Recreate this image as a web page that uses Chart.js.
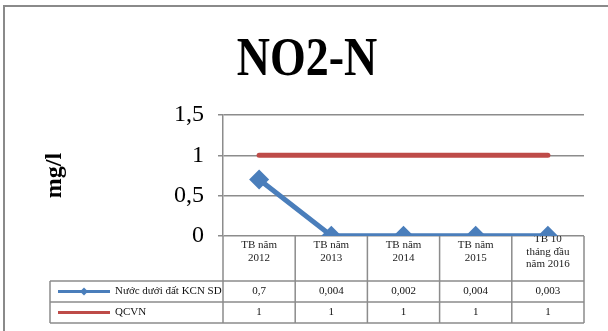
<!DOCTYPE html>
<html lang="vi">
<head>
  <meta charset="UTF-8" />
  <title>NO2-N</title>
  <script src="https://cdn.jsdelivr.net/npm/chart.js"></script>
  <style>
    html, body { margin: 0; padding: 0; background: #fff; }
    .wrap { width: 608px; height: 331px; }
  </style>
</head>
<body>
  <div class="wrap"><canvas id="no2Chart" width="608" height="331"></canvas></div>

  <script>
    // Data
    const categories = [
      ['TB năm', '2012'],
      ['TB năm', '2013'],
      ['TB năm', '2014'],
      ['TB năm', '2015'],
      ['TB 10', 'tháng đầu', 'năm 2016']
    ];
    const groundwater = [0.7, 0.004, 0.002, 0.004, 0.003];
    const qcvn = [1, 1, 1, 1, 1];
    const yTicks = [0, 0.5, 1, 1.5];
    const seriesNames = ['Nước dưới đất KCN SD', 'QCVN'];
    const chartTitle = 'NO2-N';

    const FONT = '"Liberation Serif", "Times New Roman", serif';
    const BLUE = '#4A7EBB';
    const RED = '#BE4B48';
    const GRID = '#8c8c8c';

    const fmt = v => String(v).replace('.', ',');

    // frame, title and the Excel-style data table under the x axis
    const dataTablePlugin = {
      id: 'dataTable',
      beforeDraw(chart) {
        const ctx = chart.ctx;
        ctx.save();
        ctx.fillStyle = '#fff';
        ctx.fillRect(0, 0, chart.width, chart.height);
        ctx.strokeStyle = '#8a8a8a';
        ctx.lineWidth = 2;
        ctx.strokeRect(4, 6, chart.width + 20, chart.height + 20);

        // title is a bit taller than the font in the reference
        ctx.translate(307, 75);
        ctx.scale(1, 1.18);
        ctx.fillStyle = '#000';
        ctx.font = 'bold 46px ' + FONT;
        ctx.textAlign = 'center';
        ctx.textBaseline = 'alphabetic';
        ctx.fillText(chartTitle, 0, 0);
        ctx.restore();
      },
      beforeDatasetsDraw(chart) {
        const ctx = chart.ctx;
        const xs = chart.scales.x;
        const area = chart.chartArea;
        const step = (xs.right - xs.left) / categories.length;
        const headTop = area.bottom;
        const rowH = 21;
        const rowTop = headTop + 45;
        const tableBottom = rowTop + rowH * 2;
        const legendLeft = 50;

        ctx.save();
        ctx.strokeStyle = GRID;
        ctx.lineWidth = 1.5;
        ctx.beginPath();
        for (let i = 0; i <= categories.length; i++) {
          const x = xs.left + step * i;
          ctx.moveTo(x, headTop);
          ctx.lineTo(x, tableBottom);
        }
        ctx.moveTo(legendLeft, rowTop);
        ctx.lineTo(legendLeft, tableBottom);
        for (let r = 0; r <= 2; r++) {
          const y = rowTop + rowH * r;
          ctx.moveTo(legendLeft, y);
          ctx.lineTo(xs.right, y);
        }
        ctx.stroke();

        const rows = [groundwater, qcvn];
        const colors = [BLUE, RED];
        ctx.font = '11px ' + FONT;
        ctx.textBaseline = 'middle';
        rows.forEach((vals, r) => {
          const cy = rowTop + rowH * r + rowH / 2;
          // legend key
          ctx.strokeStyle = colors[r];
          ctx.lineWidth = 3;
          ctx.beginPath();
          ctx.moveTo(legendLeft + 8, cy);
          ctx.lineTo(legendLeft + 60, cy);
          ctx.stroke();
          if (r === 0) {
            ctx.fillStyle = BLUE;
            ctx.beginPath();
            ctx.moveTo(legendLeft + 34 - 4, cy);
            ctx.lineTo(legendLeft + 34, cy - 4);
            ctx.lineTo(legendLeft + 34 + 4, cy);
            ctx.lineTo(legendLeft + 34, cy + 4);
            ctx.closePath();
            ctx.fill();
          }
          ctx.fillStyle = '#111';
          ctx.textAlign = 'left';
          ctx.fillText(seriesNames[r], legendLeft + 65, cy);
          ctx.textAlign = 'center';
          vals.forEach((v, i) => {
            ctx.fillText(fmt(v), xs.left + step * (i + 0.5), cy);
          });
        });
        ctx.restore();
      }
    };

    new Chart(document.getElementById('no2Chart'), {
      type: 'line',
      data: {
        labels: categories,
        datasets: [
          {
            label: seriesNames[0],
            data: groundwater,
            borderColor: BLUE,
            backgroundColor: BLUE,
            borderWidth: 5,
            pointStyle: 'rectRot',
            pointRadius: 10,
            pointBorderWidth: 0,
            pointBackgroundColor: BLUE,
            tension: 0,
            order: 1
          },
          {
            label: seriesNames[1],
            data: qcvn,
            borderColor: RED,
            backgroundColor: RED,
            borderWidth: 5,
            borderCapStyle: 'round',
            pointRadius: 0,
            tension: 0,
            order: 2
          }
        ]
      },
      options: {
        responsive: false,
        animation: false,
        layout: { padding: { top: 115, left: 0, right: 24, bottom: 50 } },
        plugins: {
          legend: { display: false },
          tooltip: { enabled: false },
          title: { display: false }
        },
        scales: {
          x: {
            type: 'category',
            offset: true,
            grid: { display: false, drawTicks: false },
            border: { display: false },
            ticks: {
              autoSkip: false,
              maxRotation: 0,
              crossAlign: 'center',
              padding: 3,
              color: '#222',
              font: { family: FONT, size: 11, lineHeight: 1.15 }
            },
            afterFit: s => { s.height = 45; }
          },
          y: {
            position: 'left',
            min: 0,
            max: 1.5,
            afterBuildTicks: s => { s.ticks = yTicks.map(v => ({ value: v })); },
            ticks: {
              color: '#000',
              padding: 14,
              font: { family: FONT, size: 24 },
              callback: v => fmt(v)
            },
            grid: { color: GRID, lineWidth: 1.5, tickLength: 5, drawTicks: true },
            border: { display: true, color: GRID, width: 1.5 },
            title: {
              display: true,
              text: 'mg/l',
              color: '#000',
              font: { family: FONT, size: 24, weight: 'bold', lineHeight: 1.2 },
              padding: { top: 40, bottom: 0 }
            },
            afterFit: s => { s.width = 223; }
          }
        }
      },
      plugins: [dataTablePlugin]
    });
  </script>
</body>
</html>
